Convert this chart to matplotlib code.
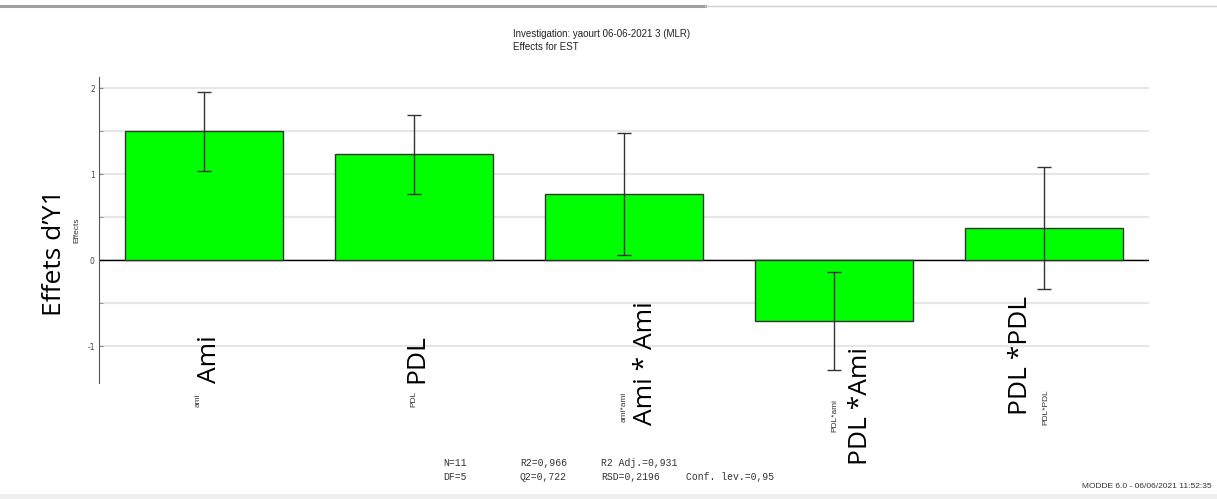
import numpy as np
import matplotlib.pyplot as plt
from matplotlib.transforms import blended_transform_factory

plt.rcParams['axes.unicode_minus'] = False

# model terms and their effects (scaled & centred coefficients) with 95% conf. intervals
terms = ['ami', 'PDL', 'ami*ami', 'PDL*ami', 'PDL*PDL']
big_labels = ['Ami', 'PDL', 'Ami * Ami', 'PDL *Ami', 'PDL *PDL']
effects = [1.50, 1.23, 0.77, -0.71, 0.37]
conf_int = [0.46, 0.46, 0.71, 0.57, 0.71]

stats_cols = [['N=11', 'DF=5'],
              ['R2=0,966', 'Q2=0,722'],
              ['R2 Adj.=0,931', 'RSD=0,2196'],
              ['', 'Conf. lev.=0,95']]

W, H = 1217, 499


def fy(py):
    return 1 - py / H


fig = plt.figure(figsize=(W / 100, H / 100), dpi=100)
ax = fig.add_axes([99 / W, fy(383), (1149 - 99) / W, (383 - 77) / H])

x = np.arange(len(terms))
ax.bar(x, effects, width=0.75, color='#00ff00', edgecolor='#333333', linewidth=1, zorder=3)
ax.errorbar(x, effects, yerr=conf_int, fmt='none', ecolor='#333333', elinewidth=1,
            capsize=4.7, capthick=1, zorder=4)
ax.set_xlim(-0.5, 4.5)
ax.set_ylim(-1.43, 2.13)
ax.set_yticks([-1, 0, 1, 2])
ax.set_yticks([-0.5, 0.5, 1.5], minor=True)
ax.set_xticks([])
ax.grid(axis='y', which='both', color='#e6e6e6', lw=1.5, zorder=0)
ax.axhline(0, color='black', lw=1, zorder=2)
for side in ['top', 'right', 'bottom']:
    ax.spines[side].set_visible(False)
ax.spines['left'].set_color('#555555')
ax.tick_params(axis='y', which='both', direction='in', length=3, labelsize=5.5,
               labelcolor='#444444', color='#888888', pad=3)

# category labels under the bars
trans = blended_transform_factory(ax.transData, fig.transFigure)
big_dx = [0.025, 0.015, 0.10, 0.124, -0.114]
big_bottom = [383, 383, 425, 465, 415]
small_dx = [-0.03, 0.0, 0.0, 0.005, 0.01]
small_bottom = [407, 407, 422, 432, 425]
for i in range(len(terms)):
    ax.text(x[i] + big_dx[i], fy(big_bottom[i]), big_labels[i], transform=trans,
            rotation=90, ha='center', va='bottom', fontsize=19, family='Open Sans')
    ax.text(x[i] + small_dx[i], fy(small_bottom[i]), terms[i], transform=trans,
            rotation=90, ha='center', va='bottom', fontsize=6, color='#333333',
            family='Liberation Sans')

fig.text(55 / W, fy(253), 'Effets d\u2019Y1', rotation=90, ha='center', va='center',
         fontsize=19, family='Open Sans')
fig.text(77 / W, fy(230), 'Effects', rotation=90, ha='center', va='center',
         fontsize=6, family='Liberation Sans', color='#333333')

fig.text(513 / W, fy(34), 'Investigation: yaourt 06-06-2021 3 (MLR)', ha='left', va='center',
         fontsize=7, family='Liberation Sans', color='#222222')
fig.text(513 / W, fy(47), 'Effects for EST', ha='left', va='center',
         fontsize=7, family='Liberation Sans', color='#222222')

stat_x = [443, 520, 601, 686]
for col, sx in zip(stats_cols, stat_x):
    for row, s in enumerate(col):
        fig.text(sx / W, fy(463 + 14 * row), s, ha='left', va='center', fontsize=7,
                 family='Liberation Mono', color='#333333')

fig.text(1212 / W, fy(486), 'MODDE 6.0 - 06/06/2021 11:52:35', ha='right', va='center',
         fontsize=6, family='Liberation Sans', color='#333333')

# window chrome: top separator and bottom band
fig.add_artist(plt.Line2D([0, 705 / W], [fy(6), fy(6)], color='#a0a0a0', lw=2.2))
fig.add_artist(plt.Line2D([705 / W, 1], [fy(6), fy(6)], color='#cfcfcf', lw=1))
fig.add_artist(plt.Rectangle((0, 0), 1, 5 / H, color='#f0f0f0', lw=0))

fig.savefig('out.png', dpi=100)
